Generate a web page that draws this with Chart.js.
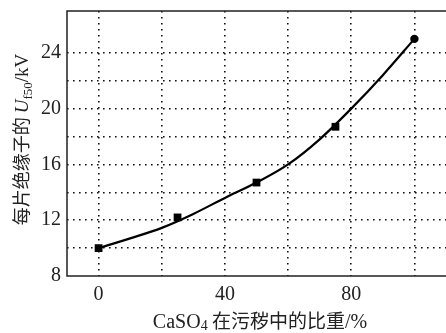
<!DOCTYPE html>
<html>
<head>
<meta charset="utf-8">
<script src="https://cdn.jsdelivr.net/npm/chart.js@4/dist/chart.umd.min.js"></script>
<style>
  html, body { margin: 0; padding: 0; background: #fff; }
  canvas { display: block; }
</style>
</head>
<body>
<canvas id="myChart" width="446" height="333"></canvas>
<script>
// measured points (CaSO4 share %, U50 per insulator kV)
var xValues = [0, 25, 50, 75, 100];
var uValues = [10.0, 12.2, 14.7, 18.7, 25.0];
var pointShapes = ['rect', 'rect', 'rect', 'rect', 'circle'];

// fitted curve
var fitX = [0, 10, 20, 30, 40, 50, 60, 70, 80, 90, 100];
var fitY = [10.0, 10.7, 11.45, 12.45, 13.6, 14.7, 16.0, 17.8, 20.0, 22.4, 25.0];

// ticks
var xGridTicks = [0, 20, 40, 60, 80, 100];
var xLabelTicks = [0, 40, 80];
var yGridTicks = [8, 10, 12, 14, 16, 18, 20, 22, 24];
var yLabelTicks = [8, 12, 16, 20, 24];

var FONT = "'Liberation Serif', 'Noto Sans CJK SC', serif";
var CJK = "'Noto Sans CJK SC', sans-serif";

// draws the frame and the two axis titles
var framePlugin = {
    id: 'frame',
    afterDraw: function (chart) {
        var ctx = chart.ctx;
        var a = chart.chartArea;
        ctx.save();
        ctx.strokeStyle = '#222';
        ctx.lineWidth = 1.5;
        ctx.beginPath();
        ctx.moveTo(a.right + 2, a.top);
        ctx.lineTo(a.left, a.top);
        ctx.lineTo(a.left, a.bottom);
        ctx.lineTo(a.right + 2, a.bottom);
        ctx.stroke();

        ctx.fillStyle = '#222';
        ctx.textBaseline = 'alphabetic';

        // x title: CaSO4 在污秽中的比重/%
        var runsX = [
            { t: 'CaSO', f: '20px ' + FONT, dy: 0 },
            { t: '4', f: '14px ' + FONT, dy: 2 },
            { t: ' 在污秽中的比重', f: '19px ' + CJK, dy: 0 },
            { t: '/%', f: '20px ' + FONT, dy: 0 }
        ];
        drawRuns(ctx, runsX, 260, 333 - 5);

        // y title, rotated
        ctx.translate(22, (a.top + a.bottom) / 2 - 4);
        ctx.rotate(-Math.PI / 2);
        var runsY = [
            { t: '每片绝缘子的 ', f: '18px ' + CJK, dy: 0 },
            { t: 'U', f: 'italic 19px ' + FONT, dy: 0 },
            { t: 'f50', f: '13px ' + FONT, dy: 4 },
            { t: '/kV', f: '19px ' + FONT, dy: 0 }
        ];
        drawRuns(ctx, runsY, 0, 6);
        ctx.restore();
    }
};

function drawRuns(ctx, runs, cx, y) {
    var total = 0;
    runs.forEach(function (r) {
        ctx.font = r.f;
        r.w = ctx.measureText(r.t).width;
        total += r.w;
    });
    var x = cx - total / 2;
    ctx.textAlign = 'left';
    runs.forEach(function (r) {
        ctx.font = r.f;
        ctx.fillText(r.t, x, y + r.dy);
        x += r.w;
    });
}

var ctx = document.getElementById('myChart').getContext('2d');
var myChart = new Chart(ctx, {
    type: 'scatter',
    data: {
        datasets: [{
            label: 'fit',
            type: 'line',
            data: fitX.map(function (x, i) { return { x: x, y: fitY[i] }; }),
            borderColor: '#000',
            borderWidth: 2.2,
            pointRadius: 0,
            cubicInterpolationMode: 'monotone',
            fill: false
        }, {
            label: 'Uf50',
            data: xValues.map(function (x, i) { return { x: x, y: uValues[i] }; }),
            pointStyle: pointShapes,
            pointRadius: [5.5, 5.5, 5.5, 5.5, 4.2],
            backgroundColor: '#000',
            borderColor: '#000',
            borderWidth: 0
        }]
    },
    options: {
        responsive: false,
        animation: false,
        devicePixelRatio: 1,
        layout: { autoPadding: false, padding: { top: 11, right: 0, left: 0, bottom: 0 } },
        plugins: {
            legend: { display: false },
            tooltip: { enabled: false }
        },
        scales: {
            x: {
                type: 'linear',
                min: -10,
                max: 110,
                afterBuildTicks: function (scale) {
                    scale.ticks = xGridTicks.map(function (v) { return { value: v }; });
                },
                afterFit: function (scale) {
                    scale.height = 57;
                    scale.paddingLeft = 0;
                    scale.paddingRight = 0;
                },
                ticks: {
                    color: '#222',
                    font: { family: FONT, size: 20 },
                    padding: 7,
                    maxRotation: 0,
                    autoSkip: false,
                    callback: function (v) { return xLabelTicks.indexOf(v) >= 0 ? String(v) : ''; }
                },
                grid: { color: '#111', lineWidth: 1.6, drawTicks: false },
                border: { display: false, dash: [1.6, 4.4] }
            },
            y: {
                type: 'linear',
                min: 8,
                max: 27,
                afterBuildTicks: function (scale) {
                    scale.ticks = yGridTicks.map(function (v) { return { value: v }; });
                },
                afterFit: function (scale) {
                    scale.width = 67;
                    scale.paddingTop = 0;
                    scale.paddingBottom = 0;
                },
                ticks: {
                    color: '#222',
                    font: { family: FONT, size: 20 },
                    padding: 6,
                    autoSkip: false,
                    callback: function (v) { return yLabelTicks.indexOf(v) >= 0 ? String(v) : ''; }
                },
                grid: {
                    color: function (c) { return c.tick && c.tick.value === 8 ? 'rgba(0,0,0,0)' : '#111'; },
                    lineWidth: 1.6,
                    drawTicks: false
                },
                border: { display: false, dash: [1.6, 4.4] }
            }
        }
    },
    plugins: [framePlugin]
});
</script>
</body>
</html>
